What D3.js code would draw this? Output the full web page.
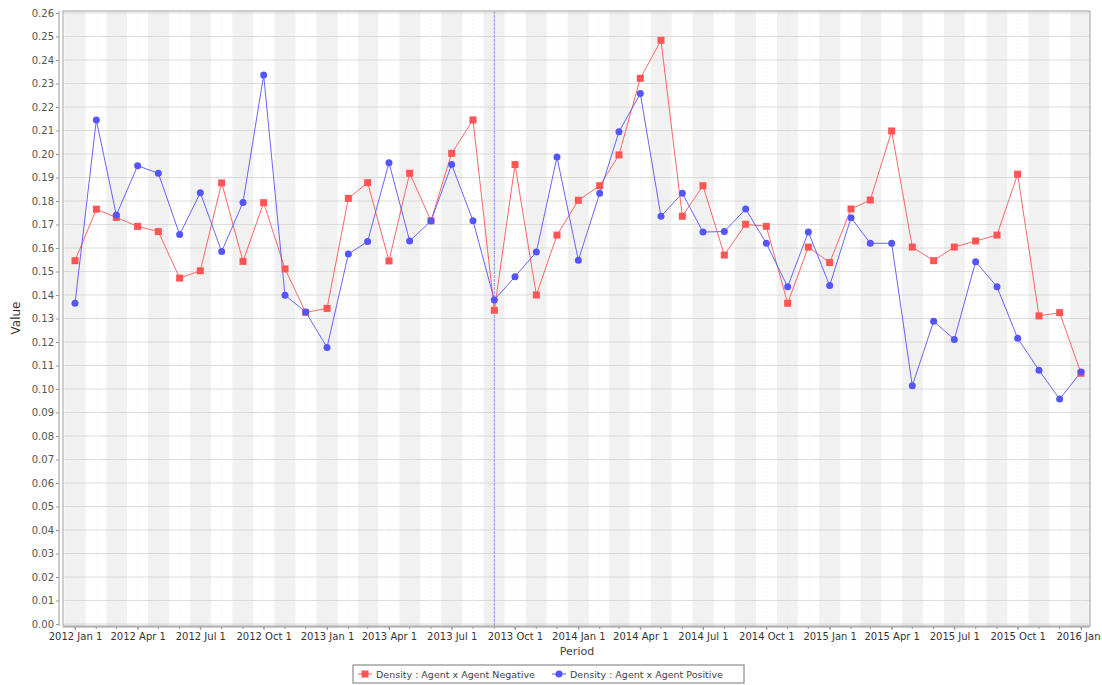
<!DOCTYPE html>
<html><head><meta charset="utf-8">
<script src="https://cdn.jsdelivr.net/npm/d3@7"></script>
<style>
body{margin:0;background:#fff;}
text{font-family:"DejaVu Sans",Verdana,sans-serif;}
</style></head>
<body><svg id="c" width="1102" height="685"></svg>
<script>
const months = d3.utcMonths(new Date(Date.UTC(2012,0,1)), new Date(Date.UTC(2016,0,2)));
const negative = [0.1546,0.1765,0.1730,0.1692,0.1670,0.1472,0.1503,0.1877,0.1543,0.1793,0.1511,0.1326,
  0.1343,0.1811,0.1878,0.1545,0.1918,0.1716,0.2003,0.2145,0.1335,0.1955,0.1400,0.1655,
  0.1803,0.1865,0.1996,0.2322,0.2484,0.1735,0.1865,0.1570,0.1701,0.1692,0.1365,0.1604,
  0.1538,0.1766,0.1804,0.2098,0.1604,0.1546,0.1604,0.1630,0.1655,0.1914,0.1311,0.1325,0.1067];
const positive = [0.1365,0.2145,0.1740,0.1950,0.1918,0.1657,0.1835,0.1585,0.1794,0.2336,0.1399,0.1328,
  0.1177,0.1574,0.1628,0.1963,0.1630,0.1715,0.1955,0.1716,0.1379,0.1478,0.1583,0.1987,
  0.1548,0.1833,0.2095,0.2257,0.1735,0.1833,0.1668,0.1670,0.1766,0.1620,0.1435,0.1668,
  0.1440,0.1729,0.1620,0.1620,0.1014,0.1288,0.1211,0.1542,0.1435,0.1216,0.1080,0.0957,0.1072];
const seriesNames = ["Density : Agent x Agent Negative","Density : Agent x Agent Positive"];
const seriesColors = ["#ff5555","#5555ff"];
const yTicks = d3.range(0,27).map(i=>i/100);
const xTickLabels = ["2012 Jan 1","2012 Apr 1","2012 Jul 1","2012 Oct 1","2013 Jan 1","2013 Apr 1","2013 Jul 1","2013 Oct 1",
  "2014 Jan 1","2014 Apr 1","2014 Jul 1","2014 Oct 1","2015 Jan 1","2015 Apr 1","2015 Jul 1","2015 Oct 1","2016 Jan"];
const crosshairDate = new Date(Date.UTC(2013,8,1));

const svg = d3.select("#c");
const L=63, R=1090, T=11, B=626;
const x = d3.scaleUtc().domain([new Date(Date.UTC(2012,0,1)), new Date(Date.UTC(2016,0,1))]).range([75,1081]);
const y = d3.scaleLinear().domain([0,0.26]).range([624,13]);

svg.append("rect").attr("x",L).attr("y",T).attr("width",R-L).attr("height",B-T).attr("fill","#fff");
svg.append("defs").append("clipPath").attr("id","pc").append("rect")
  .attr("x",L).attr("y",T).attr("width",R-L).attr("height",B-T);
const plot = svg.append("g").attr("clip-path","url(#pc)");

// alternating month bands
months.forEach((m,i)=>{
  if(i%2!==0) return;
  const prev = d3.utcMonth.offset(m,-1), next = d3.utcMonth.offset(m,1);
  const x0 = (x(prev)+x(m))/2, x1 = (x(m)+x(next))/2;
  plot.append("rect").attr("x",x0).attr("y",T).attr("width",x1-x0).attr("height",B-T).attr("fill","#f1f1f1");
});
// horizontal grid
plot.selectAll(".hg").data(yTicks).enter().append("line")
  .attr("x1",L).attr("x2",R).attr("y1",d=>y(d)).attr("y2",d=>y(d))
  .attr("stroke","#d4d4d4").attr("stroke-width",0.8);
// vertical faint grid
plot.selectAll(".vg").data(months).enter().append("line")
  .attr("x1",d=>x(d)).attr("x2",d=>x(d)).attr("y1",T).attr("y2",B)
  .attr("stroke","#ececec").attr("stroke-width",0.6).attr("stroke-dasharray","2,2");
// crosshair
plot.append("line").attr("x1",x(crosshairDate)).attr("x2",x(crosshairDate)).attr("y1",T).attr("y2",B)
  .attr("stroke","#8c8ce0").attr("stroke-width",1).attr("stroke-dasharray","3,1");

const line = d3.line().x((d,i)=>x(months[i])).y(d=>y(d));
[negative,positive].forEach((s,k)=>{
  plot.append("path").datum(s).attr("d",line).attr("fill","none")
    .attr("stroke",seriesColors[k]).attr("stroke-width",1).attr("opacity",0.9);
});
plot.selectAll(".neg").data(negative).enter().append("rect")
  .attr("x",(d,i)=>x(months[i])-3.5).attr("y",d=>y(d)-3.5).attr("width",7).attr("height",7)
  .attr("fill",seriesColors[0]);
plot.selectAll(".pos").data(positive).enter().append("circle")
  .attr("cx",(d,i)=>x(months[i])).attr("cy",d=>y(d)).attr("r",3.5)
  .attr("fill",seriesColors[1]);

// plot border
svg.append("rect").attr("x",L).attr("y",T).attr("width",R-L).attr("height",B-T)
  .attr("fill","none").attr("stroke","#b0b0b0").attr("stroke-width",1.2);

// Y axis
const yAxis = d3.axisLeft(y).tickValues(yTicks).tickFormat(d3.format(".2f")).tickSize(3).tickPadding(2);
const yg = svg.append("g").attr("transform","translate(59,0)").call(yAxis);
yg.select(".domain").attr("stroke","#999").attr("d",`M0,${T}V${B}`);
yg.selectAll(".tick line").attr("stroke","#999");
yg.selectAll("text").attr("fill","#555").style("font-size","10px");

// X axis
const quarterTicks = months.filter(m=>m.getUTCMonth()%3===0);
const xAxis = d3.axisBottom(x).tickValues(quarterTicks)
  .tickFormat((d,i)=>xTickLabels[i]).tickSize(3).tickPadding(3);
const xg = svg.append("g").attr("transform",`translate(0,${B+1})`).call(xAxis);
xg.select(".domain").attr("stroke","#999").attr("d",`M${L},0H${R}`);
xg.selectAll(".tick line").attr("stroke","#999");
xg.selectAll("text").attr("fill","#333").style("font-size","10px");
// keep the last label inside the picture
xg.selectAll(".tick").filter((d,i,n)=>i===n.length-1).select("text")
  .attr("text-anchor","end").attr("x",19);
xg.selectAll(".minor").data(months).enter().append("line").attr("class","minor")
  .attr("x1",d=>x(d)).attr("x2",d=>x(d)).attr("y1",0).attr("y2",2).attr("stroke","#999");

// axis labels
svg.append("text").attr("transform","translate(20,318) rotate(-90)").attr("text-anchor","middle")
  .style("font-size","12px").attr("fill","#333").text("Value");
svg.append("text").attr("x",577).attr("y",655).attr("text-anchor","middle")
  .style("font-size","11px").attr("fill","#444").text("Period");

// legend
const lg = svg.append("g");
lg.append("rect").attr("x",353).attr("y",665).attr("width",391).attr("height",18)
  .attr("fill","#fff").attr("stroke","#777").attr("stroke-width",1);
const items = [{x:358, name:seriesNames[0], c:seriesColors[0], shape:"sq"},{x:552, name:seriesNames[1], c:seriesColors[1], shape:"ci"}];
items.forEach(it=>{
  lg.append("line").attr("x1",it.x).attr("x2",it.x+14).attr("y1",674).attr("y2",674).attr("stroke",it.c).attr("stroke-width",1);
  if(it.shape==="sq") lg.append("rect").attr("x",it.x+3.5).attr("y",670.5).attr("width",7).attr("height",7).attr("fill",it.c);
  else lg.append("circle").attr("cx",it.x+7).attr("cy",674).attr("r",3.5).attr("fill",it.c);
  lg.append("text").attr("x",it.x+18).attr("y",677.5).style("font-size","9.5px").attr("fill","#444").text(it.name);
});
</script></body></html>
